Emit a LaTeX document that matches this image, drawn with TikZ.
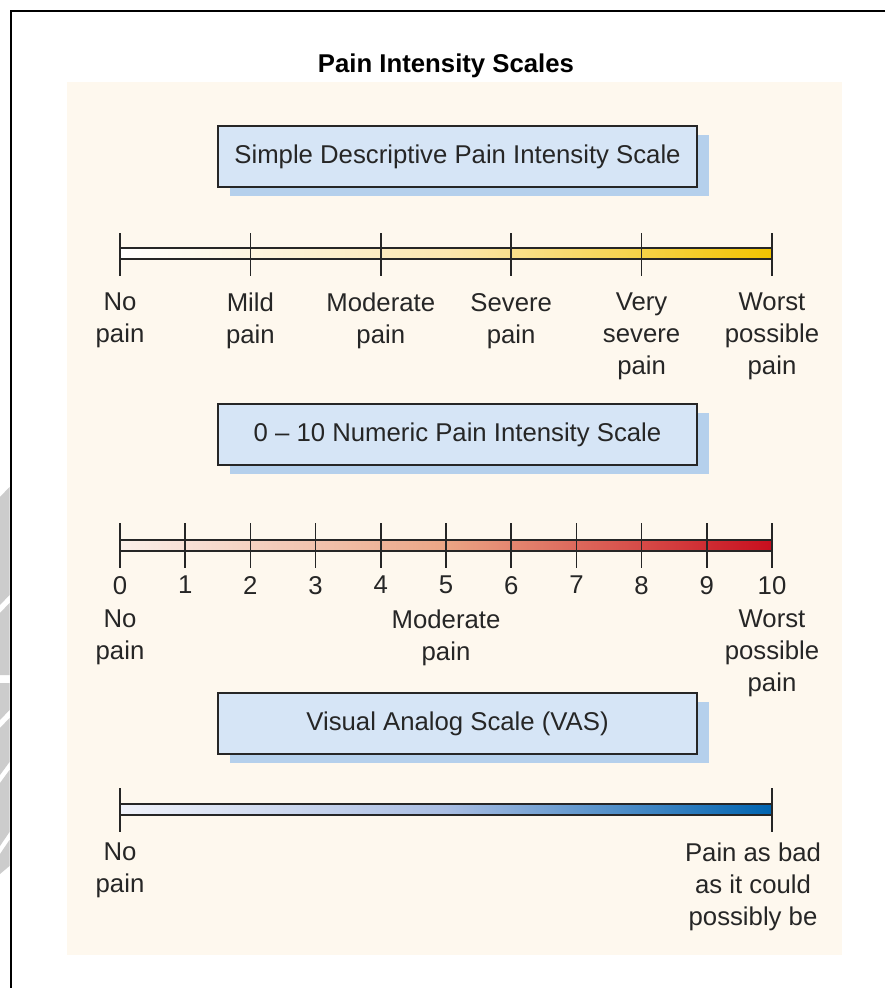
\documentclass[tikz,border=0pt]{standalone}
\usepackage{fontspec}
\setmainfont{Liberation Sans}
\usetikzlibrary{shadows}
\definecolor{cream}{HTML}{FEF8EE}
\definecolor{boxblue}{HTML}{D6E5F6}
\definecolor{shadowblue}{HTML}{B5D0EC}
\definecolor{ink}{HTML}{262626}
\definecolor{wmgray}{HTML}{CCCCCC}
\definecolor{yelmid}{HTML}{FCE7B0}
\definecolor{yelend}{HTML}{F2C400}
\definecolor{redstart}{HTML}{FBEFEA}
\definecolor{redmid}{HTML}{EBA585}
\definecolor{redend}{HTML}{C80E1E}
\definecolor{bluestart}{HTML}{F0F2FA}
\definecolor{bluemid}{HTML}{A9BDE2}
\definecolor{blueend}{HTML}{0064B0}
\tikzset{
  txt/.style={font=\fontsize{19.3}{24}\selectfont, text=ink, inner sep=0pt, align=center},
  lab/.style={txt, anchor=north},
  titlebox/.style={draw=ink, line width=1.1pt, fill=boxblue, minimum width=359.25pt, minimum height=45.75pt, inner sep=0pt,
     font=\fontsize{19.3}{24}\selectfont, text=ink,
     drop shadow={shadow xshift=9pt, shadow yshift=-6.75pt, fill=shadowblue, opacity=1}},
  tickline/.style={draw=ink, line width=1.3pt},
  barline/.style={draw=ink, line width=1.1pt},
}
\begin{document}
\begin{tikzpicture}[x=0.75pt,y=-0.75pt]
\useasboundingbox (0,0) rectangle (885,988);
\fill[white] (0,0) rectangle (885,988);
% watermark fragments at the left edge
\fill[wmgray] (0,497) -- (9.5,487) -- (9.5,595) -- (0,605) -- cycle;
\fill[wmgray] (0,613) -- (9.5,603) -- (9.5,675) -- (0,675) -- cycle;
\fill[wmgray] (0,683) -- (9.5,683) -- (9.5,710) -- (0,720) -- cycle;
\fill[wmgray] (0,728) -- (9.5,718) -- (9.5,762) -- (0,775) -- cycle;
\fill[wmgray] (0,783) -- (9.5,770) -- (9.5,832) -- (0,846) -- cycle;
\fill[wmgray] (0,854) -- (9.5,840) -- (9.5,866) -- (0,874) -- cycle;
% frame
\draw[line width=1.5pt, black] (885,11) -- (11,11) -- (11,988);
% cream panel
\fill[cream] (67,82) rectangle (842,955);
% title
\node[txt, font=\fontsize{19.3}{24}\selectfont\bfseries, text=black, anchor=base] (title) at (446,73) {Pain Intensity Scales};

% ---------- Scale 1 ----------
\node[titlebox] (box1) at (457.5,156.5) {\raisebox{-1pt}{Simple Descriptive Pain Intensity Scale}};
\shade[left color=white, right color=yelend, middle color=yelmid] (120,248) rectangle (772,259);
\draw[barline] (120,248) -- (772,248) (120,259) -- (772,259);
\foreach \i/\x/\t in {0/120/{No\\pain}, 1/250.4/{Mild\\pain}, 2/380.8/{Moderate\\pain}, 3/511.2/{Severe\\pain}, 4/641.6/{Very\\severe\\pain}, 5/772/{Worst\\possible\\pain}}{
  \coordinate (a\i top) at (\x,233);
  \coordinate (a\i bot) at (\x,276);
  \draw[tickline] (a\i top) -- (a\i bot);
  \node[lab] (a\i lab) at (\x,293) {\t};
}

% ---------- Scale 2 ----------
\node[titlebox] (box2) at (457.5,434.5) {\raisebox{-1pt}{0 – 10 Numeric Pain Intensity Scale}};
\shade[left color=redstart, right color=redend, middle color=redmid] (120,540) rectangle (772,551);
\draw[barline] (120,540) -- (772,540) (120,551) -- (772,551);
\foreach \i in {0,...,10}{
  \pgfmathsetmacro{\xx}{120+65.2*\i}
  \coordinate (b\i top) at (\xx,523);
  \coordinate (b\i bot) at (\xx,568);
  \draw[tickline] (b\i top) -- (b\i bot);
  \node[lab] (b\i num) at (\xx,576) {\i};
}
\node[lab] (b0lab) at (120,610) {No\\pain};
\node[lab] (b5lab) at (446,610) {Moderate\\pain};
\node[lab] (b10lab) at (772,610) {Worst\\possible\\pain};

% ---------- Scale 3 ----------
\node[titlebox] (box3) at (457.5,723.5) {\raisebox{-1pt}{Visual Analog Scale (VAS)}};
\shade[left color=bluestart, right color=blueend, middle color=bluemid] (120,804) rectangle (772,815);
\draw[barline] (120,804) -- (772,804) (120,815) -- (772,815);
\coordinate (c0top) at (120,788);
\coordinate (c0bot) at (120,832);
\coordinate (c1top) at (772,788);
\coordinate (c1bot) at (772,832);
\draw[tickline] (c0top) -- (c0bot);
\draw[tickline] (c1top) -- (c1bot);
\node[lab] (c0lab) at (120,843) {No\\pain};
\node[lab] (c1lab) at (753,843) {Pain as bad\\as it could\\possibly be};
\end{tikzpicture}
\end{document}
